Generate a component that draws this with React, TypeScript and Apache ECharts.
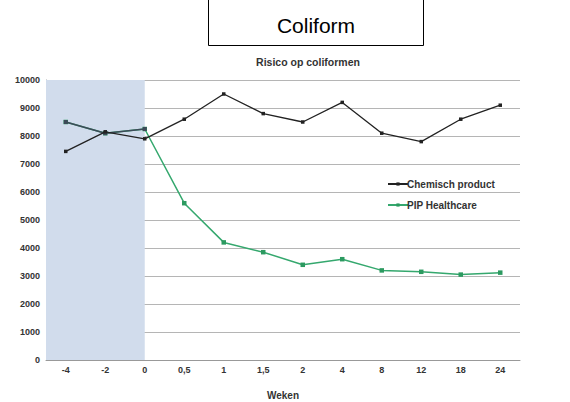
import React, { useEffect, useRef } from "react";
import * as echarts from "echarts";

const weeks = ["-4", "-2", "0", "0,5", "1", "1,5", "2", "4", "8", "12", "18", "24"];
const chemisch = [7450, 8150, 7900, 8600, 9500, 8800, 8500, 9200, 8100, 7800, 8600, 9100];
const pip = [8500, 8100, 8250, 5600, 4200, 3850, 3400, 3600, 3200, 3150, 3050, 3120];
const yTicks = { min: 0, max: 10000, interval: 1000 };
const baselineCount = 3; // -4, -2, 0 : inside the shaded baseline period
const shadeBands = [0, 2.5]; // from left edge to the centre of week "0" (in category bands)

export default function App() {
  const ref = useRef<HTMLDivElement>(null);
  useEffect(() => {
    if (!ref.current) return;
    const chart = echarts.init(ref.current, null, { renderer: "svg" });
    const lblFont = { fontFamily: "Liberation Sans", fontWeight: "bold" as const, fontSize: 9, color: "#333" };
    chart.setOption({
      animation: false,
      backgroundColor: "#fff",
      title: {
        text: "Risico op coliformen",
        left: 303,
        textAlign: "center",
        top: 51,
        textStyle: { fontFamily: "Liberation Sans", fontWeight: "bold", fontSize: 10.5, color: "#333" },
      },
      graphic: [
        {
          type: "rect",
          shape: { x: 208.5, y: -1.5, width: 215, height: 47 },
          style: { fill: "#fff", stroke: "#000", lineWidth: 1 },
        },
        {
          type: "text",
          x: 316,
          y: 25,
          style: {
            text: "Coliform",
            fontFamily: "Liberation Sans",
            fontSize: 21,
            fill: "#000",
            align: "center",
            verticalAlign: "middle",
          },
        },
      ],
      legend: {
        orient: "vertical",
        left: 382,
        top: 174,
        itemWidth: 20,
        itemHeight: 4,
        itemGap: 11,
        textStyle: { fontFamily: "Liberation Sans", fontWeight: "bold", fontSize: 10, color: "#333", padding: [0, 0, 0, -6] },
        data: ["Chemisch product", "PIP Healthcare"],
      },
      grid: { left: 46, right: 50, top: 80, bottom: 42, outerBoundsMode: "none", containLabel: false },
      xAxis: [
        {
          type: "category",
          data: weeks,
          boundaryGap: true,
          name: "Weken",
          nameLocation: "middle",
          nameGap: 30,
          nameTextStyle: { ...lblFont, fontSize: 10 },
          axisLine: { lineStyle: { color: "#999" } },
          axisTick: { show: false },
          axisLabel: { ...lblFont, margin: 5 },
        },
        {
          type: "value",
          min: 0,
          max: weeks.length,
          show: false,
          splitLine: { show: false },
        },
      ],
      yAxis: {
        type: "value",
        min: yTicks.min,
        max: yTicks.max,
        interval: yTicks.interval,
        axisLine: { show: true, lineStyle: { color: "#999" } },
        axisTick: { show: false },
        axisLabel: { ...lblFont, margin: 6, formatter: (v: number) => String(v) },
        splitLine: { lineStyle: { color: "#b5b5b5" } },
      },
      series: [
        {
          name: "shade",
          type: "line",
          xAxisIndex: 1,
          data: [],
          z: 1,
          markArea: {
            silent: true,
            itemStyle: { color: "#d1dcec" },
            data: [[{ xAxis: shadeBands[0] }, { xAxis: shadeBands[1] }]],
          },
        },
        {
          name: "Chemisch product",
          type: "line",
          data: chemisch,
          symbol: "rect",
          symbolSize: 3.5,
          lineStyle: { color: "#222", width: 1.3 },
          itemStyle: { color: "#222" },
          z: 4,
        },
        {
          name: "PIP Healthcare",
          type: "line",
          data: pip,
          symbol: "rect",
          symbolSize: 4.5,
          lineStyle: { color: "#35a86e", width: 1.5 },
          itemStyle: { color: "#2c9a60" },
          z: 2,
        },
        {
          name: "PIP baseline",
          type: "line",
          data: pip.slice(0, baselineCount),
          symbol: "rect",
          symbolSize: 4,
          lineStyle: { color: "#3d4a58", width: 1.5 },
          itemStyle: { color: "#3d4a58" },
          z: 3,
        },
      ],
    });
    return () => chart.dispose();
  }, []);
  return <div ref={ref} style={{ width: 570, height: 402, position: "absolute", left: 0, top: 0 }} />;
}
